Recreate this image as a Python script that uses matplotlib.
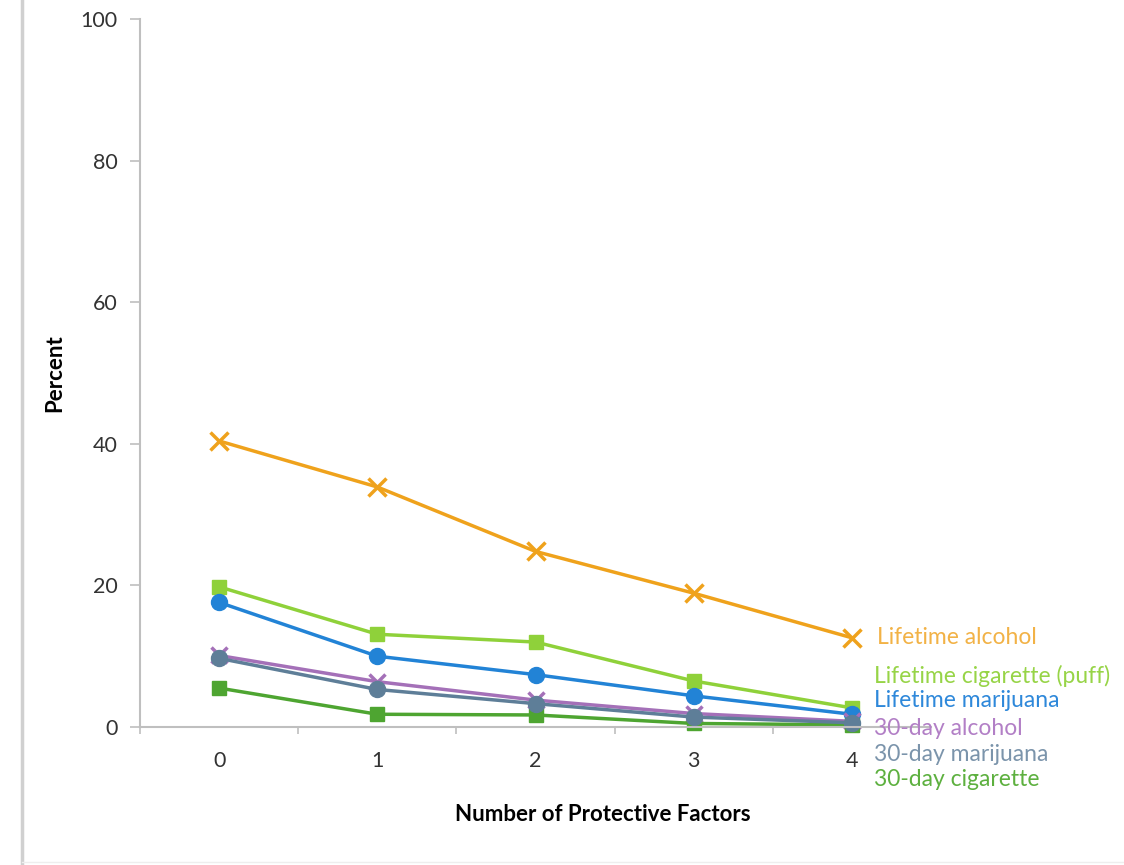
import matplotlib
matplotlib.use("Agg")
import matplotlib.pyplot as plt
from matplotlib.lines import Line2D

factors = [0, 1, 2, 3, 4]
series_names = ["Lifetime alcohol", "Lifetime cigarette (puff)", "Lifetime marijuana",
                "30-day alcohol", "30-day cigarette", "30-day marijuana"]
lifetime_alcohol = [40.4, 33.9, 24.8, 18.9, 12.6]
lifetime_cigarette = [19.8, 13.1, 12.0, 6.5, 2.7]
lifetime_marijuana = [17.6, 10.0, 7.4, 4.4, 1.8]
day30_alcohol = [10.1, 6.4, 3.8, 1.9, 0.8]
day30_cigarette = [5.5, 1.8, 1.7, 0.5, 0.3]
day30_marijuana = [9.7, 5.3, 3.3, 1.4, 0.6]
y_ticks = [0, 20, 40, 60, 80, 100]

plt.rcParams['font.family'] = ['Lato', 'DejaVu Sans']

fig = plt.figure(figsize=(11.24, 8.65), dpi=100)
ax = fig.add_axes([140/1124, 1-727/865, (931-140)/1124, (727-19)/865])

styles = [
    (lifetime_alcohol, "#EFA21C", "x", 13, "#F2B246", (25, 0)),
    (lifetime_cigarette, "#8FD13A", "s", 10, "#97D447", (22, 32)),
    (lifetime_marijuana, "#2283D6", "o", 11.5, "#2E88DA", (22, 14)),
    (day30_alcohol, "#A470B8", "x", 12, "#B27FC6", (22, -7)),
    (day30_cigarette, "#4EA531", "s", 10, "#5DB03F", (22, -55)),
    (day30_marijuana, "#5E7E98", "o", 11.5, "#7B94AB", (22, -32)),
]
for name, (vals, col, mk, ms, tcol, off) in zip(series_names, styles):
    ax.plot(factors, vals, color=col, lw=2.5, marker=mk, ms=ms,
            mew=2.5 if mk == "x" else 1, mec=col, mfc=col, clip_on=False)
    ax.annotate(name, xy=(factors[-1], vals[-1]), xytext=off,
                textcoords="offset pixels", color=tcol, fontsize=16.5,
                va="center", ha="left", annotation_clip=False)

ax.set_xlim(-0.5, 4.5)
ax.set_ylim(0, 100)
ax.set_yticks(y_ticks)
ax.set_xticks(factors)
ax.set_xticks([-0.5, 0.5, 1.5, 2.5, 3.5], minor=True)
ax.tick_params(axis='x', which='major', length=0, pad=17, labelsize=15.5, labelcolor="#333333")
ax.tick_params(axis='x', which='minor', length=5, width=1.2, color="#BFBFBF", direction='out')
ax.tick_params(axis='y', length=7, width=1.2, color="#BFBFBF", pad=9, labelsize=15.5,
               labelcolor="#333333")
for s in ["top", "right"]:
    ax.spines[s].set_visible(False)
for s in ["left", "bottom"]:
    ax.spines[s].set_color("#BFBFBF")
    ax.spines[s].set_linewidth(1.5)

ax.set_ylabel("Percent", fontsize=16, fontweight="bold", labelpad=11)
ax.set_xlabel("Number of Protective Factors", fontsize=16, fontweight="bold", labelpad=24)
ax.xaxis.label.set_x(0.585)

fig.add_artist(Line2D([22/1124, 22/1124], [0, 1], color="#D0D0D0", lw=2.5,
                      transform=fig.transFigure))
fig.add_artist(Line2D([22/1124, 1], [3/865, 3/865], color="#EEEEEE", lw=1,
                      transform=fig.transFigure))

fig.savefig("out.png", dpi=100)
